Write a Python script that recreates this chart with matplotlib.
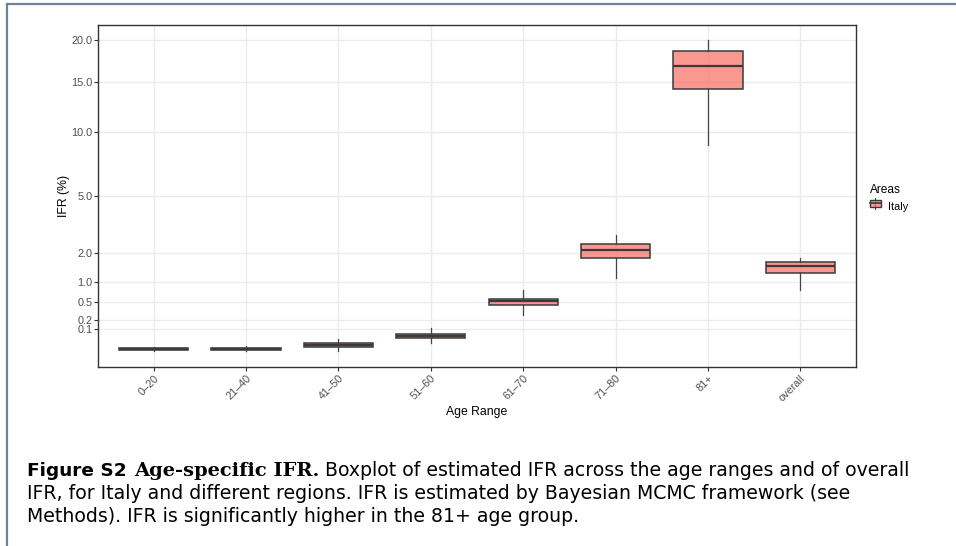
import numpy as np
import matplotlib.pyplot as plt
from matplotlib.lines import Line2D
from matplotlib.patches import Rectangle, Patch
from matplotlib.legend_handler import HandlerPatch

plt.rcParams['font.family'] = ['Liberation Sans', 'DejaVu Sans']

# IFR (%) summaries
age_groups = ["0–20", "21–40", "41–50", "51–60", "61–70", "71–80", "81+", "overall"]
whisker_low = [0.00005, 0.0, 0.0001, 0.014, 0.276, 1.126, 8.79, 0.790]
q1 = [0.0003, 0.0005, 0.0042, 0.039, 0.447, 1.808, 14.25, 1.264]
median = [0.0010, 0.0013, 0.0087, 0.052, 0.521, 2.143, 16.89, 1.512]
q3 = [0.0021, 0.0025, 0.0149, 0.066, 0.577, 2.376, 18.64, 1.656]
whisker_high = [0.0042, 0.0063, 0.0323, 0.111, 0.775, 2.82, 20.0, 1.808]
y_breaks = [0.1, 0.2, 0.5, 1.0, 2.0, 5.0, 10.0, 15.0, 20.0]

W, H = 956, 546
fill = (0.973, 0.463, 0.427, 0.75)
edge = '#3a3a3a'

fig = plt.figure(figsize=(W / 100, H / 100), dpi=100)
ax = fig.add_axes([98.3 / W, 1 - 367 / H, (855.7 - 98.3) / W, (367 - 25) / H])

def fwd(v):
    v = np.asarray(v, dtype=float)
    return np.sign(v) * np.sqrt(np.abs(v))

def inv(v):
    v = np.asarray(v, dtype=float)
    return np.sign(v) * v ** 2

ax.set_yscale('function', functions=(fwd, inv))

stats = []
for i in range(len(age_groups)):
    stats.append(dict(whislo=whisker_low[i], q1=q1[i], med=median[i],
                      q3=q3[i], whishi=whisker_high[i]))
pos = np.arange(1, len(age_groups) + 1)
ax.bxp(stats, positions=pos, widths=0.75, patch_artist=True,
       showfliers=False, showcaps=False,
       boxprops=dict(facecolor=fill, edgecolor=edge, linewidth=1.1),
       medianprops=dict(color=edge, linewidth=1.6),
       whiskerprops=dict(color='#444444', linewidth=0.9), zorder=3)

ax.set_xlim(0.4, len(age_groups) + 0.6)
ax.set_ylim(-0.05, 22.04)
ax.set_yticks(y_breaks)
ax.set_yticklabels([f"{b:.1f}" for b in y_breaks])
ax.set_xticks(pos)
ax.set_xticklabels(age_groups, rotation=45, ha='right', rotation_mode='anchor')
ax.minorticks_off()

ax.grid(True, color='#ebebeb', linewidth=1.0, zorder=0)
ax.set_axisbelow(True)
for s in ax.spines.values():
    s.set_color('#333333')
    s.set_linewidth(1.0)
ax.tick_params(length=2.8, width=0.8, color='#333333', labelcolor='#4d4d4d',
               labelsize=7.8, pad=1.5)

ax.set_ylabel("IFR (%)", fontsize=8.8, labelpad=0.5)
ax.set_xlabel("Age Range", fontsize=8.8, labelpad=2)


class BoxKey(HandlerPatch):
    def create_artists(self, legend, orig, xd, yd, w, h, fontsize, trans):
        cx = xd + w / 2
        bw = w
        r = Rectangle((cx - bw / 2, yd + h * 0.15), bw, h * 0.7,
                      facecolor=fill, edgecolor=edge, linewidth=1.0, transform=trans)
        m = Line2D([cx - bw / 2, cx + bw / 2], [yd + h * 0.5] * 2,
                   color=edge, linewidth=1.2, transform=trans)
        wl = Line2D([cx, cx], [yd - h * 0.05, yd + h * 1.05], color=edge,
                    linewidth=0.8, transform=trans)
        return [wl, r, m]


leg = fig.legend(handles=[Patch(label="Italy")], title="Areas",
                 handler_map={Patch: BoxKey()},
                 loc='upper left', bbox_to_anchor=(860 / W, 1 - 174 / H),
                 frameon=False, fontsize=7.8, title_fontsize=8.6,
                 handlelength=1.05, handleheight=1.1, handletextpad=0.6,
                 alignment='left')

# frame around the figure panel of the page
fig.add_artist(Line2D([7 / W, 1], [1 - 4 / H] * 2, color='#6a849e', linewidth=1.6))
fig.add_artist(Line2D([7 / W] * 2, [0, 1 - 4 / H], color='#6a849e', linewidth=1.6))

# caption
fig.canvas.draw()
rend = fig.canvas.get_renderer()


def put(x, y, s, size=13.6, **kw):
    t = fig.text(x / W, 1 - y / H, s, va='baseline', fontsize=size,
                 family=kw.pop('family', 'DejaVu Sans'), **kw)
    return x + t.get_window_extent(rend).width


x = put(27, 476, "Figure S2", size=13.3, fontweight='bold')
x = put(x + 8, 476, "Age-specific IFR.", size=14, fontweight='bold', family='DejaVu Serif')
put(x + 5, 476, "Boxplot of estimated IFR across the age ranges and of overall")
put(27, 499, "IFR, for Italy and different regions. IFR is estimated by Bayesian MCMC framework (see")
put(27, 522, "Methods). IFR is significantly higher in the 81+ age group.")

fig.savefig("out.png", dpi=100)
